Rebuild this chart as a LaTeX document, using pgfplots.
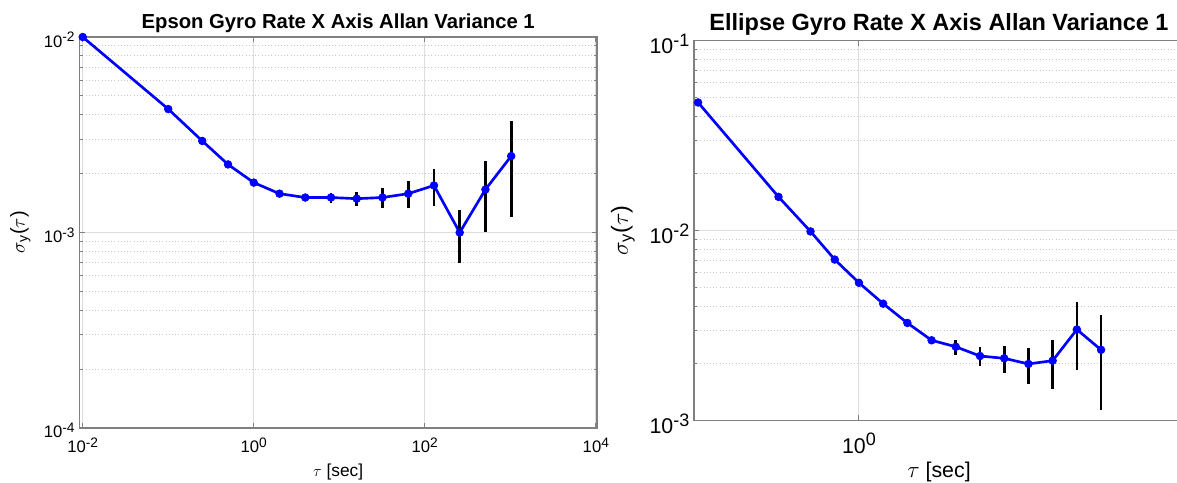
\documentclass[border=0pt]{standalone}
\usepackage{pgfplots}
\pgfplotsset{compat=1.18}
\usepackage{pgfplotstable}
\usepackage{fontspec}
\setmainfont{Liberation Sans}

\definecolor{mblue}{RGB}{0,0,255}
\definecolor{axgray}{RGB}{128,128,128}
\definecolor{gridgray}{RGB}{222,222,222}
\definecolor{mgridgray}{RGB}{200,200,200}

\newcommand\eL[1]{10\raisebox{4pt}{\fontsize{10.3}{10}\selectfont #1}}
\newcommand\eR[1]{10\raisebox{5.3pt}{\fontsize{13.5}{13}\selectfont #1}}

\pgfplotstableread{
t s e
0.01 0.0100 0
0.1 0.00428 0
0.25 0.00294 0
0.5 0.00223 0
1 0.00180 0
2 0.00158 0.00005
4 0.00151 0.00006
8 0.00151 0.00009
16 0.00149 0.00013
32 0.00151 0.00018
64 0.00158 0.00025
128 0.00174 0.00038
256 0.00100 0.00030
512 0.00166 0.00065
1024 0.00246 0.00126
}\epson

\pgfplotstableread{
t s e
0.01 0.0473 0
0.1 0.01507 0
0.25 0.00991 0
0.5 0.00705 0
1 0.00532 0
2 0.00413 0.00004
4 0.00327 0.00006
8 0.00265 0.00012
16 0.00245 0.00022
32 0.00219 0.00025
64 0.00213 0.00034
128 0.00199 0.00043
256 0.00207 0.00060
512 0.00302 0.00118
1024 0.00236 0.00122
}\ellipse

\begin{document}
\begin{tikzpicture}
\useasboundingbox (0,0) rectangle (882.75pt,361.5pt);
% ---------------- Left: Epson
\begin{axis}[
  xmode=log, ymode=log, scale only axis, anchor=south west,
  axis line style={draw=axgray, line width=1.1pt},
  tick style={draw=axgray, line width=0.8pt},
  major tick length=4pt, minor tick length=2.5pt, tick align=inside,
  xmajorgrids, ymajorgrids, yminorgrids, xminorticks=false,
  major grid style={draw=gridgray, line width=0.75pt},
  minor grid style={draw=mgridgray, dotted, line width=0.75pt},
  clip marker paths=false,
  at={(59.475pt,40.5pt)}, width=388.3pt, height=293.25pt,
  xmin=0.00912, xmax=10330, ymin=1e-4, ymax=1e-2,
  xtick={0.01,1,100,10000},
  xticklabels={\eL{-2},\eL{0},\eL{2},\eL{4}},
  ytick={1e-4,1e-3,1e-2},
  yticklabels={\eL{-4},\eL{-3},\eL{-2}},
  minor ytick={2e-4,3e-4,4e-4,5e-4,6e-4,7e-4,8e-4,9e-4,2e-3,3e-3,4e-3,5e-3,6e-3,7e-3,8e-3,9e-3},
  ticklabel style={font=\fontsize{12.5}{14}\selectfont},
  xticklabel style={yshift=-4pt},
  yticklabel style={yshift=-2pt},
  title={Epson Gyro Rate X Axis Allan Variance 1},
  title style={font=\bfseries\fontsize{15.2}{18}\selectfont, at={(axis description cs:0.5,1.023)}, anchor=base, yshift=-6pt},
  xlabel={$\tau$ [sec]},
  xlabel style={font=\fontsize{13}{15}\selectfont, at={(axis description cs:0.5,-0.112)}, anchor=center},
  ylabel={$\sigma$\textsubscript{y}($\tau$)},
  ylabel style={font=\fontsize{15}{17}\selectfont, at={(axis description cs:-0.114,0.5)}, anchor=center},
]
\addplot[draw=mblue, line width=2pt, mark=*, mark size=2.9pt,
    mark options={fill=mblue, draw=mblue, line width=0.5pt}]
    table[x=t,y=s] {\epson};
\addplot[draw=none, mark=none, forget plot,
    error bars/y dir=both, error bars/y explicit, error bars/error mark=none,
    error bars/error bar style={draw=black, line width=2pt, solid}]
    table[x=t,y=s,y error=e] {\epson};
\end{axis}
% ---------------- Right: Ellipse
\begin{axis}[
  xmode=log, ymode=log, scale only axis, anchor=south west,
  axis line style={draw=axgray, line width=1.1pt},
  tick style={draw=axgray, line width=0.8pt},
  major tick length=4pt, minor tick length=2.5pt, tick align=inside,
  xmajorgrids, ymajorgrids, yminorgrids, xminorticks=false,
  major grid style={draw=gridgray, line width=0.75pt},
  minor grid style={draw=mgridgray, dotted, line width=0.75pt},
  clip marker paths=false,
  at={(520.5pt,45.98pt)}, width=367.5pt, height=285pt,
  xmin=0.0089, xmax=11000, ymin=1e-3, ymax=1e-1,
  xtick={1},
  xticklabels={\eR{0}},
  ytick={1e-3,1e-2,1e-1},
  yticklabels={\eR{-3},\eR{-2},\eR{-1}},
  minor ytick={2e-3,3e-3,4e-3,5e-3,6e-3,7e-3,8e-3,9e-3,2e-2,3e-2,4e-2,5e-2,6e-2,7e-2,8e-2,9e-2},
  ticklabel style={font=\fontsize{16}{19}\selectfont},
  xticklabel style={yshift=-6pt},
  yticklabel style={yshift=-2.5pt},
  title={Ellipse Gyro Rate X Axis Allan Variance 1},
  title style={font=\bfseries\fontsize{17.6}{20}\selectfont, at={(axis description cs:0.5,1.028)}, anchor=base, yshift=-6pt},
  xlabel={$\tau$ [sec]},
  xlabel style={font=\fontsize{16}{19}\selectfont, at={(axis description cs:0.5,-0.135)}, anchor=center},
  ylabel={$\sigma$\textsubscript{y}($\tau$)},
  ylabel style={font=\fontsize{17.5}{20}\selectfont, at={(axis description cs:-0.145,0.5)}, anchor=center},
]
\addplot[draw=mblue, line width=2pt, mark=*, mark size=2.9pt,
    mark options={fill=mblue, draw=mblue, line width=0.5pt}]
    table[x=t,y=s] {\ellipse};
\addplot[draw=none, mark=none, forget plot,
    error bars/y dir=both, error bars/y explicit, error bars/error mark=none,
    error bars/error bar style={draw=black, line width=2pt, solid}]
    table[x=t,y=s,y error=e] {\ellipse};
\end{axis}
\end{tikzpicture}
\end{document}
